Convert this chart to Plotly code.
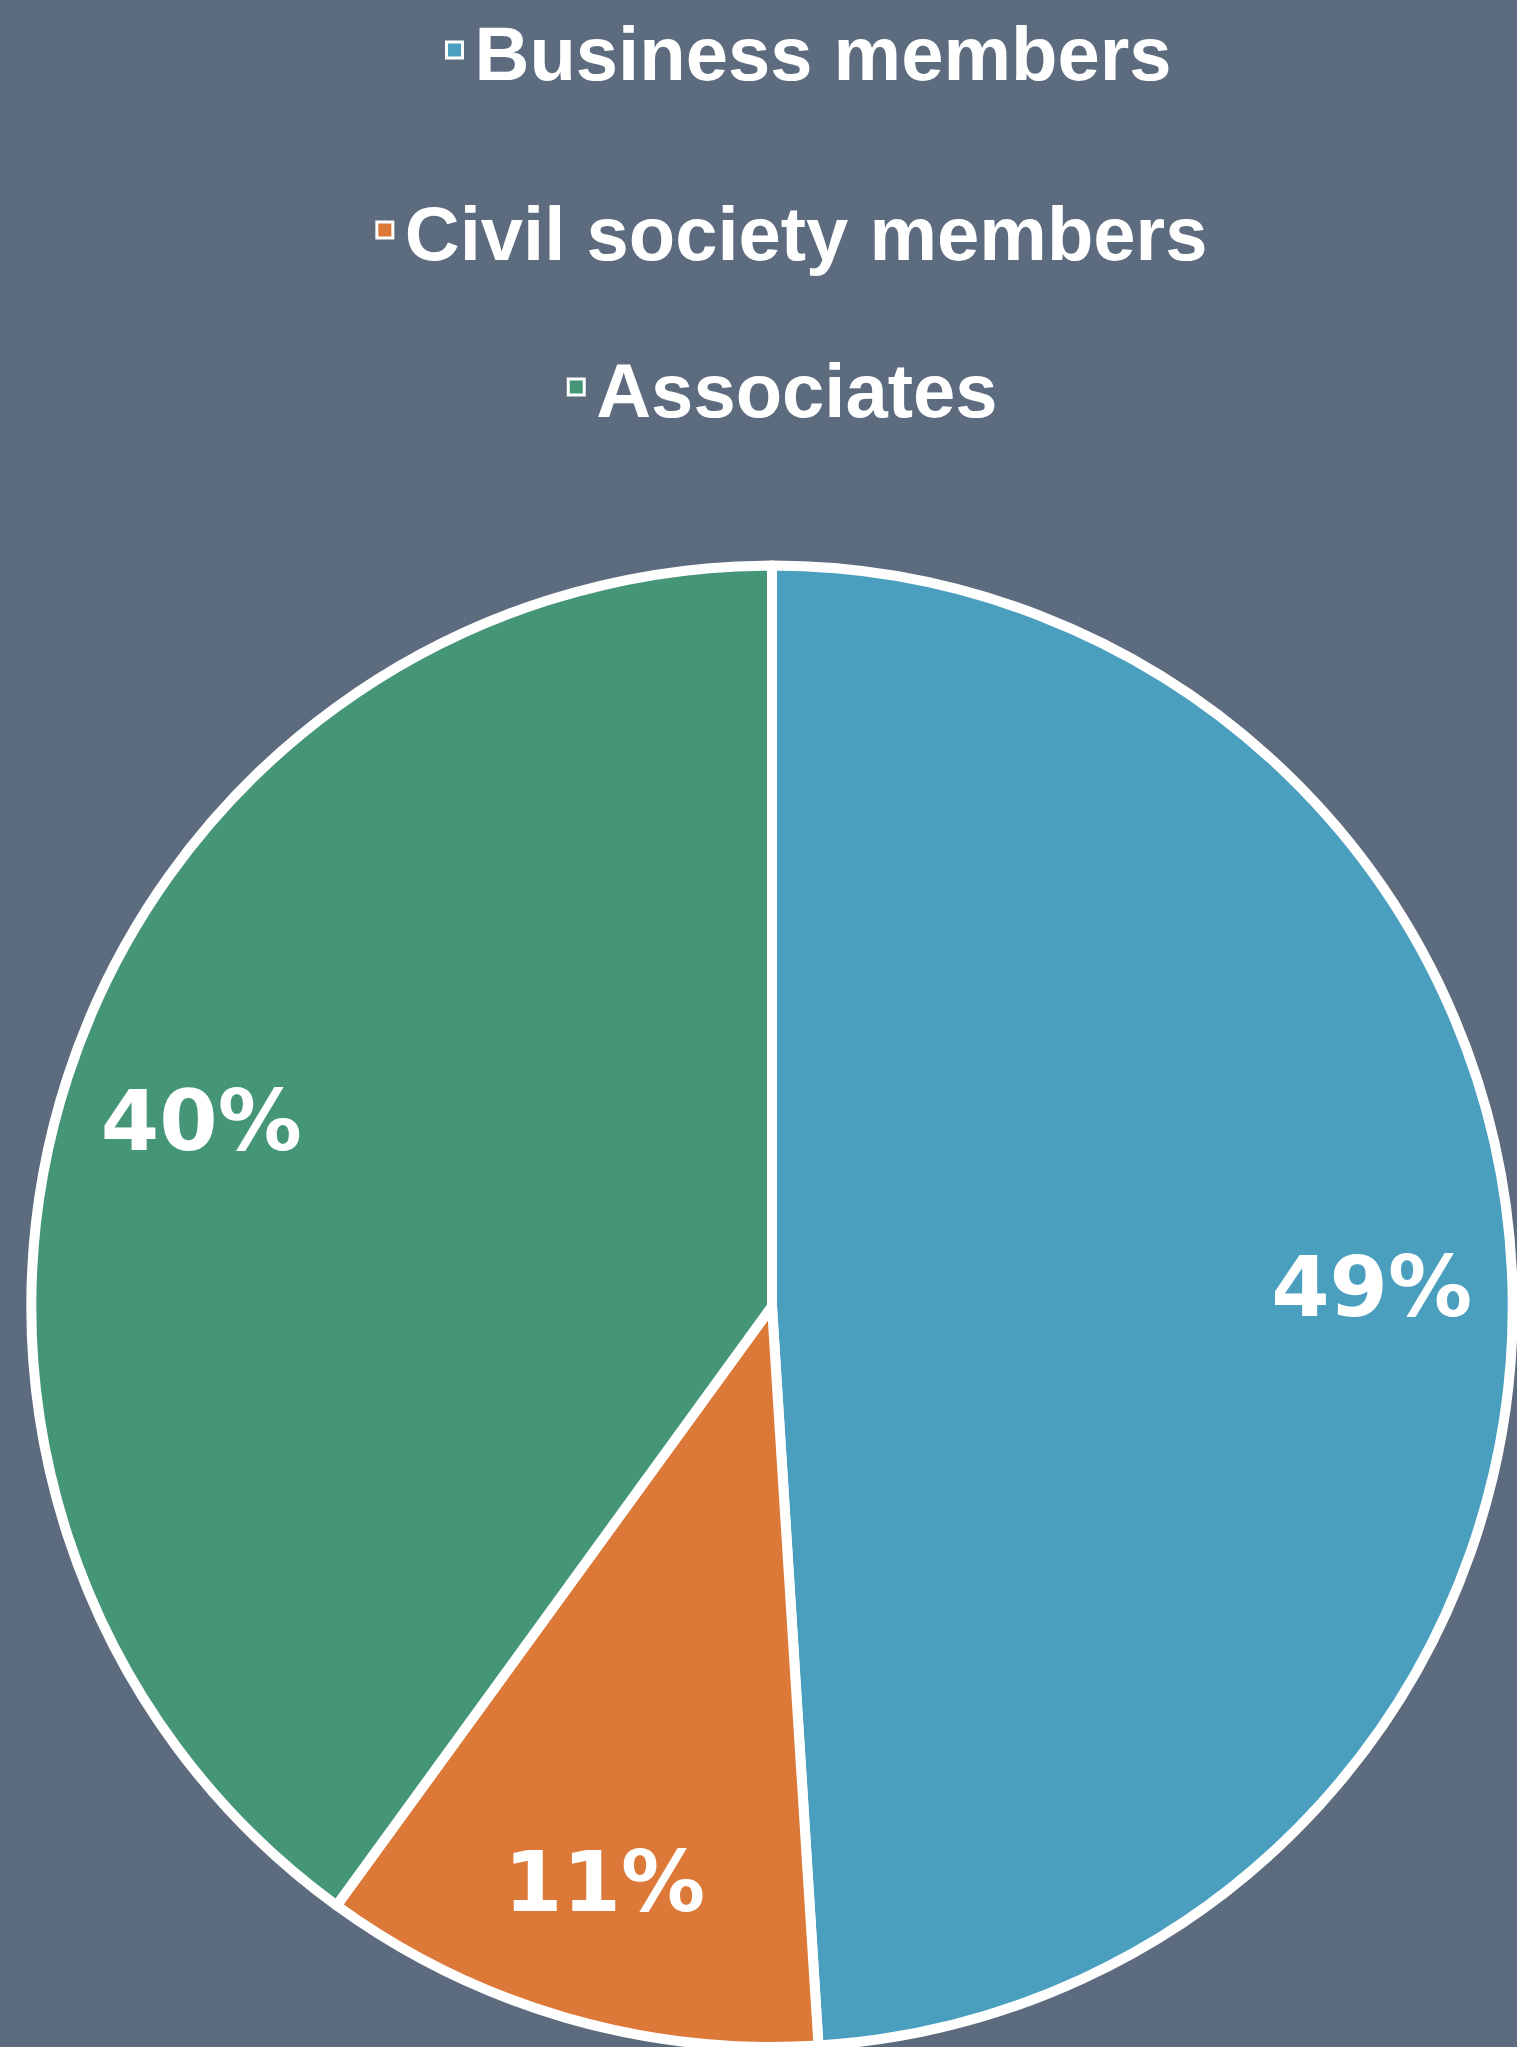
import plotly.graph_objects as go

categories = ["Business members", "Civil society members", "Associates"]
values = [49, 11, 40]
colors = ["#4A9FBF", "#DC7939", "#449676"]

BG = "#5C6B7E"
W, H = 1517, 2047
dom_x = [0.0204, 0.9974]
dom_y = [0.0, 0.7237]

fig = go.Figure()

# main pie (slices)
fig.add_trace(go.Pie(
    labels=categories, values=values, sort=False, direction="clockwise", rotation=0,
    marker=dict(colors=colors, line=dict(color="white", width=10)),
    textinfo="none", showlegend=False, hoverinfo="label+percent",
    domain=dict(x=dom_x, y=dom_y),
))

# transparent ring pie carrying the percentage labels near the rim
fig.add_trace(go.Pie(
    labels=categories, values=values, sort=False, direction="clockwise", rotation=0,
    hole=0.62,
    marker=dict(colors=["rgba(0,0,0,0)"] * 3, line=dict(width=0)),
    textinfo="percent", textposition="inside", insidetextorientation="horizontal",
    insidetextfont=dict(family="DejaVu Sans", size=84, color="white", weight="bold"),
    showlegend=False, hoverinfo="skip",
    domain=dict(x=dom_x, y=dom_y),
))

# legend entries, one centred legend per row
legend_names = ["legend", "legend2", "legend3"]
legend_x = [0.531, 0.520, 0.514]
legend_y = [1 - 50 / H, 1 - 230 / H, 1 - 387 / H]
for name, col, lg in zip(categories, colors, legend_names):
    fig.add_trace(go.Scatter(
        x=[None], y=[None], mode="markers", name=name, legend=lg,
        marker=dict(symbol="square", size=16, color=col, line=dict(color="white", width=3)),
        showlegend=True, hoverinfo="skip",
    ))

leg_common = dict(
    xanchor="center", yanchor="middle", bgcolor="rgba(0,0,0,0)",
    font=dict(family="Liberation Sans", size=76, color="white", weight="bold"),
    itemclick=False, itemdoubleclick=False,
)
fig.update_layout(
    width=W, height=H,
    paper_bgcolor=BG, plot_bgcolor=BG,
    margin=dict(l=0, r=0, t=0, b=0, autoexpand=False),
    xaxis=dict(visible=False), yaxis=dict(visible=False),
    legend=dict(x=legend_x[0], y=legend_y[0], **leg_common),
    legend2=dict(x=legend_x[1], y=legend_y[1], **leg_common),
    legend3=dict(x=legend_x[2], y=legend_y[2], **leg_common),
)

fig.write_html(
    "out.html",
    config={"displayModeBar": False},
    post_script="document.body.style.margin='0';document.body.style.overflow='hidden';",
)
